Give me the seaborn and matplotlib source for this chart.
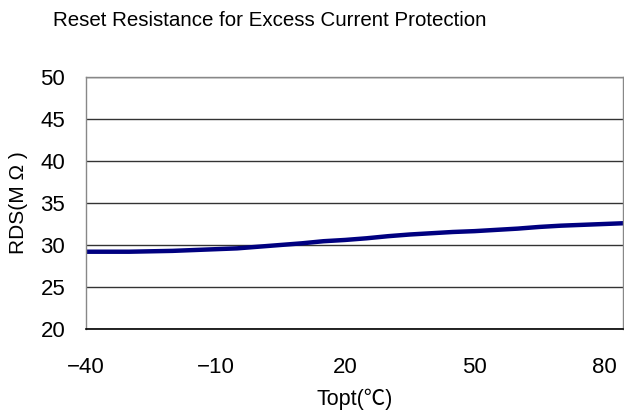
import matplotlib
matplotlib.use("Agg")
import matplotlib.pyplot as plt
import seaborn as sns
import pandas as pd

temps = [-40, -35, -30, -25, -20, -15, -10, -5, 0, 5, 10, 15, 20, 25, 30, 35, 40, 45, 50, 55, 60, 65, 70, 75, 80, 85]
rds = [29.2, 29.2, 29.2, 29.25, 29.3, 29.4, 29.5, 29.6, 29.8, 30.0, 30.2, 30.45, 30.6, 30.8, 31.05,
       31.25, 31.4, 31.55, 31.65, 31.8, 31.95, 32.15, 32.3, 32.4, 32.5, 32.6]
xticks = [-40, -10, 20, 50, 80]
yticks = [20, 25, 30, 35, 40, 45, 50]

sns.set_theme(style="white")
plt.rcParams['font.family'] = ['Liberation Sans', 'Noto Sans CJK JP', 'DejaVu Sans']

df = pd.DataFrame({"Topt": temps, "RDS": rds})

fig = plt.figure(figsize=(6.24, 4.2), dpi=100)
ax = fig.add_axes([86/624, 91/420, 537/624, 252/420])
sns.lineplot(data=df, x="Topt", y="RDS", ax=ax, color="#000080", linewidth=3.2)

ax.set_xlim(-40, 84.4)
ax.set_ylim(20, 50)
ax.set_xticks(xticks)
ax.set_yticks(yticks)
ax.tick_params(axis='x', direction='in', length=6, width=1, color='black', labelsize=16, pad=20)
ax.tick_params(axis='y', length=0, labelsize=16, pad=15)
for lab in ax.get_xticklabels() + ax.get_yticklabels():
    lab.set_color('black')

ax.yaxis.grid(True, color='#333333', linewidth=1)
ax.xaxis.grid(False)
for s in ['left', 'top', 'right']:
    ax.spines[s].set_color('#888888')
    ax.spines[s].set_linewidth(1)
ax.spines['bottom'].set_color('black')
ax.spines['bottom'].set_linewidth(1.2)

ax.set_xlabel("Topt(℃)", fontsize=15.5, color='black', labelpad=8)
ax.set_ylabel("RDS(M Ω )", fontsize=15, color='black', labelpad=9)
fig.text(270/624, 1 - 20/420, "Reset Resistance for Excess Current Protection",
         ha='center', va='center', fontsize=14.8, color='black')

fig.savefig("out.png", dpi=100)
